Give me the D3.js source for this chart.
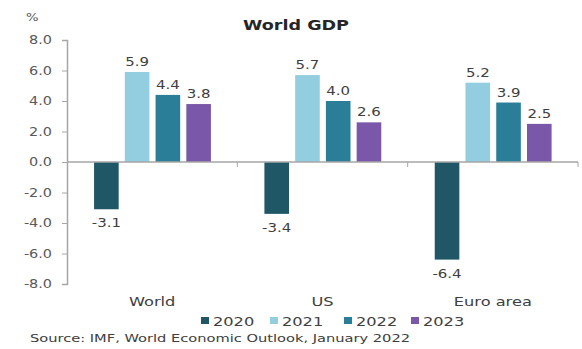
<!DOCTYPE html>
<html>
<head>
<meta charset="utf-8">
<script src="https://cdn.jsdelivr.net/npm/d3@7"></script>
<style>
  html, body { margin: 0; padding: 0; background: #fff; }
  svg { display: block; font-family: "DejaVu Sans", sans-serif; }
</style>
</head>
<body>
<svg id="chart" width="582" height="349"></svg>
<script>
const regions = ["World", "US", "Euro area"];
const years = ["2020", "2021", "2022", "2023"];
const v2020 = [-3.1, -3.4, -6.4];
const v2021 = [5.9, 5.7, 5.2];
const v2022 = [4.4, 4.0, 3.9];
const v2023 = [3.8, 2.6, 2.5];
const yTicks = [8, 6, 4, 2, 0, -2, -4, -6, -8];
const colors = ["#1f5766", "#93cde0", "#2a7e98", "#7a57a8"];

const series = [v2020, v2021, v2022, v2023];

const svg = d3.select("#chart");
const plotLeft = 67, plotRight = 578, plotTop = 40, plotBottom = 284;

// Widen text glyphs horizontally by factor k
function widen(sel, k) {
  sel.each(function () {
    const w = this.getComputedTextLength();
    d3.select(this).attr("textLength", w * k).attr("lengthAdjust", "spacingAndGlyphs");
  });
}

const y = d3.scaleLinear().domain([-8, 8]).range([plotBottom, plotTop]);
const x0 = d3.scaleBand().domain(regions).range([plotLeft, plotRight]).padding(0);
const x1 = d3.scaleBand().domain(years).range([24, 147]).paddingInner(0.2).paddingOuter(0.1);
const color = d3.scaleOrdinal().domain(years).range(colors);

// Title
svg.append("text")
  .attr("x", 296).attr("y", 30)
  .attr("text-anchor", "middle")
  .attr("font-weight", "bold")
  .attr("font-size", 14)
  .attr("fill", "#262626")
  .attr("textLength", 106)
  .attr("lengthAdjust", "spacingAndGlyphs")
  .text("World GDP");

// Unit label
svg.append("text")
  .attr("x", 26).attr("y", 21)
  .attr("font-size", 11)
  .attr("fill", "#595959")
  .text("%")
  .call(widen, 1.2);

// Y axis
const yAxis = d3.axisLeft(y).tickValues(yTicks).tickSize(5).tickPadding(10);
const gy = svg.append("g").attr("transform", `translate(${plotLeft},0)`).call(yAxis);
gy.select(".domain").attr("stroke", "#a6a6a6").attr("stroke-width", 1.5);
gy.selectAll(".tick line").attr("stroke", "#a6a6a6");
gy.selectAll(".tick text")
  .attr("font-family", "DejaVu Sans, sans-serif")
  .attr("font-size", 12)
  .attr("fill", "#595959")
  .text(d => d3.format(".1f")(d).replace("\u2212", "-"))
  .call(widen, 1.2);

// Bars
const rows = (r, i) => years.map((yr, k) => ({ year: yr, value: series[k][i] }));
const groups = svg.append("g").selectAll("g")
  .data(regions)
  .join("g")
  .attr("transform", d => `translate(${x0(d)},0)`);

groups.selectAll("rect")
  .data(rows)
  .join("rect")
  .attr("x", d => x1(d.year))
  .attr("width", x1.bandwidth())
  .attr("y", d => y(Math.max(0, d.value)))
  .attr("height", d => Math.abs(y(d.value) - y(0)))
  .attr("fill", d => color(d.year));

groups.selectAll("text.val")
  .data(rows)
  .join("text")
  .attr("class", "val")
  .attr("x", d => x1(d.year) + x1.bandwidth() / 2)
  .attr("y", d => d.value >= 0 ? y(d.value) - 6 : y(d.value) + 18)
  .attr("text-anchor", "middle")
  .attr("font-size", 13)
  .attr("fill", "#404040")
  .text(d => d3.format(".1f")(d.value).replace("\u2212", "-"))
  .call(widen, 1.15);

// Zero line with category dividers
const gx = svg.append("g").attr("transform", `translate(0,${y(0)})`);
gx.append("line")
  .attr("x1", plotLeft).attr("x2", plotRight)
  .attr("stroke", "#a6a6a6").attr("stroke-width", 1.5);
gx.selectAll("line.div")
  .data(regions)
  .join("line")
  .attr("class", "div")
  .attr("x1", d => x0(d) + x0.bandwidth()).attr("x2", d => x0(d) + x0.bandwidth())
  .attr("y1", 0).attr("y2", 5)
  .attr("stroke", "#a6a6a6");

// Category labels
svg.append("g").selectAll("text")
  .data(regions)
  .join("text")
  .attr("x", d => x0(d) + x0.bandwidth() / 2)
  .attr("y", 306)
  .attr("text-anchor", "middle")
  .attr("font-size", 12)
  .attr("fill", "#404040")
  .text(d => d)
  .call(widen, 1.35);

// Legend
const legendX = [201, 270, 344, 411];
const legend = svg.append("g").selectAll("g")
  .data(years)
  .join("g")
  .attr("transform", (d, i) => `translate(${legendX[i]},321)`);
legend.append("rect")
  .attr("x", 0).attr("y", -4).attr("width", 8).attr("height", 7)
  .attr("fill", d => color(d));
legend.append("text")
  .attr("x", 12).attr("y", 5)
  .attr("font-size", 12)
  .attr("fill", "#404040")
  .text(d => d)
  .call(widen, 1.35);

// Source note
svg.append("text")
  .attr("x", 30).attr("y", 342)
  .attr("font-size", 10)
  .attr("fill", "#404040")
  .attr("textLength", 380)
  .attr("lengthAdjust", "spacingAndGlyphs")
  .text("Source: IMF, World Economic Outlook, January 2022");
</script>
</body>
</html>
